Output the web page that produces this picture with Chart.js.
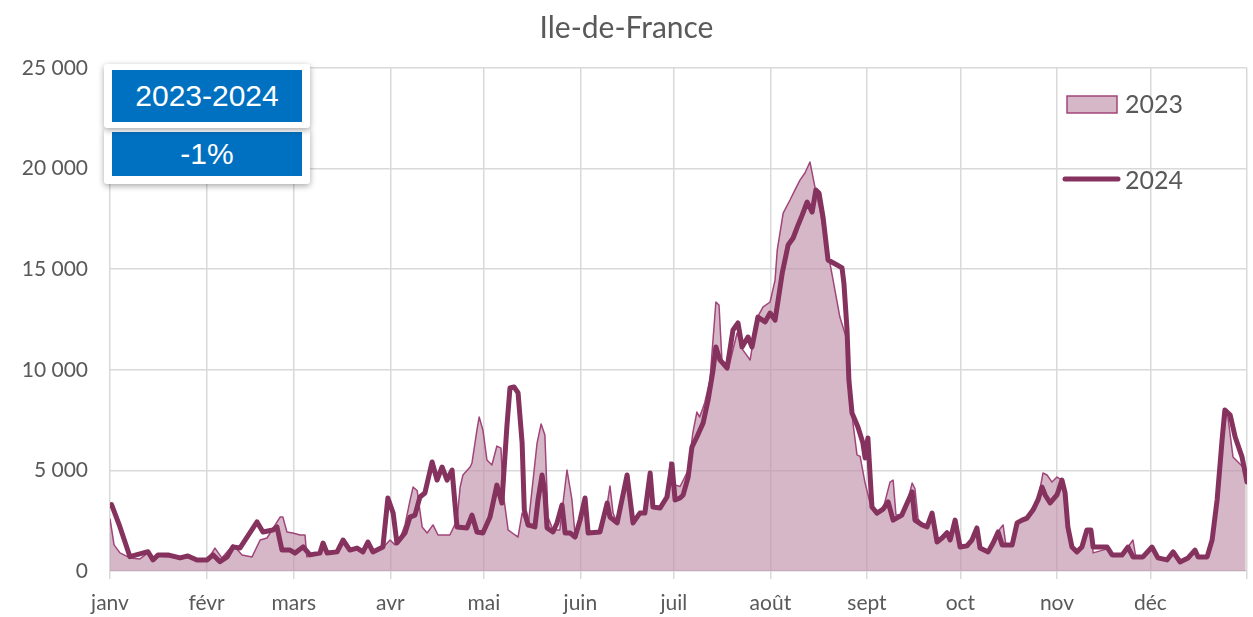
<!DOCTYPE html>
<html lang="fr">
<head>
<meta charset="utf-8">
<title>Ile-de-France</title>
<script src="https://cdn.jsdelivr.net/npm/chart.js@4.4.1/dist/chart.umd.min.js"></script>
<style>
html, body { margin: 0; padding: 0; background: #fff; }
#wrap { position: relative; width: 1253px; height: 617px; }
#wrap canvas { position: absolute; left: 0; top: 0; }
.badge { position: absolute; left: 104px; width: 206px; background: #fff; border-radius: 3px; box-shadow: 0 2px 6px rgba(0,0,0,0.35); }
.badge div { position: absolute; left: 8px; width: 190px; background: #0070c0; color: #fff; text-align: center; font-family: "Liberation Sans", Arial, sans-serif; font-size: 30px; }
#b1 { top: 64px; height: 64px; z-index: 2; }
#b1 div { top: 6px; height: 52px; line-height: 52px; }
#b2 { top: 128px; height: 56px; z-index: 1; }
#b2 div { top: 4px; height: 44px; line-height: 44px; }
</style>
</head>
<body>
<div id="wrap">
  <canvas id="graph" width="1253" height="617"></canvas>
  <div class="badge" id="b1"><div>2023-2024</div></div>
  <div class="badge" id="b2"><div>-1%</div></div>
</div>
<script>
// axe des x : jour de l'année (0 = 1er janvier)
const monthStarts = [0, 31, 59, 90, 120, 151, 181, 212, 243, 273, 304, 334, 365];
const monthLabels = ['janv', 'févr', 'mars', 'avr', 'mai', 'juin', 'juil', 'août', 'sept', 'oct', 'nov', 'déc', ''];

// 2024 : jours et valeurs
const days24 = [0.5, 3.2, 6.4, 12.2, 13.8, 15.4, 18.6, 22.5, 25, 27.9, 31.1,
    33.1, 35.3, 37.6, 39.5, 41.7, 47.2, 49.1, 52.3, 53.6, 55.2,
    57.8, 59.4, 62, 64.2, 67.4, 68.4, 69.7, 72.9, 74.8, 77,
    79.3, 81.2, 82.8, 84.4, 87.6, 89.2, 90.9, 92.1, 94.7, 96.3,
    97.9, 99.5, 101.1, 103.4, 105, 106.6, 108.2, 109.8, 111.4, 114.6,
    116.2, 117.8, 119.7, 122, 124.2, 125.8, 127.4, 128.4, 129.7, 131,
    132.3, 133, 134.2, 136.4, 137.4, 138.7, 139.6, 140.3, 142.2, 143.5,
    145.1, 146.1, 147.7, 149.3, 150.9, 152.5, 153.5, 157.3, 159.6, 160.5,
    162.8, 166, 167.9, 170.1, 171.7, 173.4, 174.3, 176.6, 178.8, 180.4,
    181.4, 183, 184, 185.6, 186.8, 188.4, 190.4, 192, 193.6, 194.5,
    195.8, 198.1, 200, 201.6, 202.9, 204.8, 206.1, 208, 210.3, 211.9,
    213.5, 214.5, 215.8, 217.7, 219.3, 220.9, 222.2, 223.8, 225.4, 226.6,
    227.6, 228.9, 230.5, 233.4, 235, 235.6, 236.6, 237.2, 238.2, 240.1,
    241.7, 242.4, 243.3, 244.6, 246.2, 248.2, 249.8, 251.4, 254.2, 255.9,
    257.5, 258.4, 260.7, 262.3, 263.9, 265.5, 267.1, 268.7, 269.7, 271.3,
    272.9, 275.1, 276.7, 278.3, 279.3, 281.9, 283.5, 285.1, 286.4, 289.6,
    291.2, 292.8, 294.4, 296.3, 297.9, 299.2, 300.2, 301.8, 304, 305.6,
    306.6, 307.5, 308.8, 310.4, 312, 313.6, 314.9, 315.6, 320.1, 321.7,
    324.9, 326.8, 328.4, 331.6, 334.5, 336.4, 339.3, 341.3, 343.5, 346.1,
    348.3, 349.3, 352.2, 353.8, 355.4, 357, 357.9, 359.6, 361.2, 363.4,
    365];
const vals24 = [3300, 2190, 710, 960, 550, 800, 800, 650, 750, 550, 550,
    800, 460, 700, 1200, 1140, 2440, 1940, 2040, 2190, 1040,
    1040, 890, 1200, 800, 890, 1390, 890, 950, 1540, 1040,
    1140, 950, 1440, 950, 1190, 3630, 2880, 1390, 1890, 2680,
    2780, 3680, 3880, 5420, 4520, 5170, 4520, 5020, 2190, 2140,
    2780, 1940, 1890, 2680, 4270, 3380, 7160, 9100, 9150, 8850,
    6360, 3030, 2290, 2190, 3530, 4770, 3880, 2140, 1940, 2390,
    3280, 1890, 1890, 1690, 2530, 3630, 1890, 1940, 3380, 2680,
    2390, 4770, 2390, 2880, 2880, 4870, 3180, 3130, 3680, 5320,
    3530, 3630, 3780, 4670, 6160, 6660, 7360, 8500, 9990, 11130,
    10490, 10090, 11980, 12330, 11130, 11630, 11130, 12620, 12380, 12820,
    12470, 13470, 14810, 16200, 16550, 17200, 17690, 18340, 17840, 18940,
    18790, 17590, 15460, 15210, 15060, 14300, 12000, 9500, 7850, 7160,
    6360, 5620, 6610, 3180, 2880, 3080, 3430, 2530, 2780, 3380,
    3930, 2530, 2290, 2190, 2880, 1440, 1640, 1900, 1540, 2530,
    1190, 1250, 1540, 2140, 1140, 950, 1390, 1940, 1290, 1290,
    2390, 2530, 2630, 3030, 3530, 4170, 3780, 3380, 3780, 4520,
    3880, 2190, 1190, 950, 1190, 2040, 2040, 1190, 1190, 800,
    800, 1190, 700, 700, 1190, 650, 550, 950, 450, 650,
    1040, 700, 700, 1540, 3530, 6510, 8000, 7750, 6660, 5670,
    4420];

// 2023 : jours et valeurs
const days23 = [0, 1.3, 3.2, 6.4, 9.6, 12.2, 13.8, 16, 19.3, 22.5,
    25.7, 27.9, 31.1, 33.7, 35.9, 39.5, 42.4, 45.6, 48.2, 50.4,
    54.6, 55.5, 56.8, 58.7, 61, 62.6, 63.2, 64.2, 67.4, 68.4,
    69.7, 72.9, 74.8, 77, 79.3, 81.2, 82.8, 84.4, 87.6, 89.9,
    91.5, 93.1, 94.7, 96.3, 97.3, 98.6, 100.2, 101.8, 103.7, 105.3,
    109.1, 111.4, 112.4, 113.3, 115.6, 116.2, 117.8, 118.5, 119.7, 121,
    122.6, 124.2, 125.5, 126.2, 127.8, 130, 131, 132.3, 134.2, 137.1,
    138.4, 139.6, 140.6, 142.2, 144.4, 146.7, 148.3, 149.3, 150.9, 152.5,
    153.5, 157.3, 159.6, 160.5, 161.5, 162.8, 166, 167.9, 170.1, 171.7,
    173.4, 174.3, 176.6, 178.8, 179.8, 181.4, 183, 185.6, 187.1, 188.4,
    189.3, 190.9, 192.6, 194.5, 195.5, 196.5, 198.4, 201.3, 203.2, 205.5,
    207.7, 209.6, 211.9, 213.5, 214.2, 216.1, 218.3, 219.9, 221.5, 223.1,
    224.7, 226.3, 227.9, 229.5, 231.1, 232.7, 234.3, 236.6, 238.5, 239.8,
    240.8, 242.4, 244, 246.2, 248.2, 250.4, 251.4, 252.3, 254.2, 255.9,
    257.5, 258.4, 259.4, 260.7, 262.3, 263.9, 265.5, 267.1, 268.7, 269.7,
    271.3, 272.9, 275.1, 276.7, 278.3, 279.3, 281.9, 283.5, 285.7, 286.7,
    287.6, 289.6, 291.2, 292.8, 294.4, 296.3, 297.9, 299.5, 300.8, 302.4,
    304, 305.6, 306.6, 307.5, 308.8, 310.4, 312, 313.6, 314.9, 315.6,
    320.1, 321.7, 324.9, 326.8, 328.4, 329.3, 331.6, 334.5, 336.4, 339.3,
    341.3, 343.5, 346.1, 348.3, 349.3, 352.2, 353.8, 355.4, 357, 358.6,
    360.5, 363.7, 364.6];
const vals23 = [2600, 1300, 900, 650, 600, 900, 500, 750, 700, 600,
    700, 500, 500, 1140, 650, 1290, 800, 700, 1540, 1640,
    2680, 2680, 1940, 1890, 1790, 1790, 700, 800, 900, 1300,
    850, 950, 1500, 1000, 1100, 950, 1400, 950, 1150, 1540,
    1300, 1600, 2300, 3500, 4170, 4000, 2190, 1890, 2290, 1790,
    1790, 2530, 4170, 4770, 5170, 5370, 7010, 7650, 7010, 5520,
    5270, 6210, 6110, 3880, 2040, 1790, 1690, 2880, 2190, 6360,
    7310, 6760, 2680, 2040, 2040, 5020, 3530, 1790, 2400, 3500,
    1890, 1940, 3300, 4220, 2880, 2400, 4600, 2500, 2900, 2900,
    4700, 3200, 3200, 3700, 5420, 4270, 4200, 5000, 6860, 7900,
    7650, 8350, 9490, 13370, 13220, 10340, 9990, 11830, 10980, 10490,
    12570, 13120, 13370, 14460, 15950, 17790, 18440, 18940, 19430, 19780,
    20330, 19080, 17940, 16600, 15310, 13970, 12620, 11480, 7360, 5770,
    5700, 4370, 3380, 2900, 3100, 4420, 4520, 2800, 2780, 3380,
    4370, 4100, 2600, 2290, 2190, 2880, 1440, 1640, 1900, 1540,
    2530, 1190, 1250, 1540, 2140, 1140, 1000, 1390, 2100, 2290,
    1300, 1300, 2390, 2530, 2630, 3030, 3530, 4870, 4770, 4420,
    4670, 4520, 3880, 2190, 1190, 950, 1190, 2040, 2040, 900,
    1100, 800, 800, 1190, 1540, 700, 700, 1190, 650, 550,
    950, 450, 650, 1040, 700, 700, 1540, 3530, 6510, 8000,
    5670, 5170, 4600];

const yTicks = [0, 5000, 10000, 15000, 20000, 25000];

const couleur2024 = '#85325e';
const bord2023 = '#a0457a';
const fond2023 = 'rgba(190, 141, 166, 0.63)';
const gris = '#595959';
const grille = '#d9d9d9';

function formatMilliers(v) {
    return String(v).replace(/\B(?=(\d{3})+(?!\d))/g, ' ');
}

// légende dessinée à droite, dans la zone du graphe
const legendeDroite = {
    id: 'legendeDroite',
    afterDraw(chart) {
        const c = chart.ctx;
        const x0 = chart.chartArea.right - 182;
        c.save();
        c.fillStyle = fond2023;
        c.fillRect(x0 + 2, 96, 50, 17);
        c.strokeStyle = bord2023;
        c.lineWidth = 1.5;
        c.strokeRect(x0 + 2, 96, 50, 17);
        c.strokeStyle = couleur2024;
        c.lineWidth = 5;
        c.lineCap = 'round';
        c.beginPath();
        c.moveTo(x0, 179);
        c.lineTo(x0 + 53, 179);
        c.stroke();
        c.fillStyle = gris;
        c.font = '25px Lato';
        c.textBaseline = 'middle';
        c.fillText('2023', x0 + 60, 105);
        c.fillText('2024', x0 + 60, 181);
        c.restore();
    }
};

const ctx = document.getElementById('graph').getContext('2d');

const chart = new Chart(ctx, {
    type: 'line',
    data: {
        datasets: [{
            label: '2024',
            data: days24.map((d, i) => ({ x: d, y: vals24[i] })),
            borderColor: couleur2024,
            borderWidth: 5,
            borderJoinStyle: 'round',
            borderCapStyle: 'round',
            fill: false,
            pointRadius: 0,
            tension: 0,
            order: 0
        }, {
            label: '2023',
            data: days23.map((d, i) => ({ x: d, y: vals23[i] })),
            borderColor: bord2023,
            backgroundColor: fond2023,
            borderWidth: 1.5,
            borderJoinStyle: 'round',
            fill: 'origin',
            pointRadius: 0,
            tension: 0,
            order: 1
        }]
    },
    options: {
        responsive: false,
        animation: false,
        layout: { padding: { left: 0, right: 0, top: 0, bottom: 0 } },
        scales: {
            x: {
                type: 'linear',
                min: 0,
                max: 365,
                afterBuildTicks: axis => { axis.ticks = monthStarts.map(v => ({ value: v })); },
                afterFit: axis => { axis.height = 46; },
                ticks: {
                    autoSkip: false,
                    maxRotation: 0,
                    padding: 6,
                    color: gris,
                    font: { family: 'Lato', size: 21, lineHeight: 1.7 },
                    callback: (v, i) => monthLabels[i]
                },
                grid: { color: grille, lineWidth: 1.5, tickLength: 8 },
                border: { display: false }
            },
            y: {
                min: 0,
                max: 25000,
                afterBuildTicks: axis => { axis.ticks = yTicks.map(v => ({ value: v })); },
                afterFit: axis => { axis.width = 110; },
                ticks: {
                    padding: 22,
                    color: gris,
                    font: { family: 'Lato', size: 21 },
                    callback: v => formatMilliers(v)
                },
                grid: { color: grille, lineWidth: 1.5, drawTicks: false },
                border: { display: false }
            }
        },
        plugins: {
            legend: { display: false },
            tooltip: { enabled: false },
            title: {
                display: true,
                text: 'Ile-de-France',
                color: gris,
                font: { family: 'Lato', size: 30, weight: 'normal' },
                padding: { top: 10, bottom: 22 }
            }
        }
    },
    plugins: [legendeDroite]
});
</script>
</body>
</html>
